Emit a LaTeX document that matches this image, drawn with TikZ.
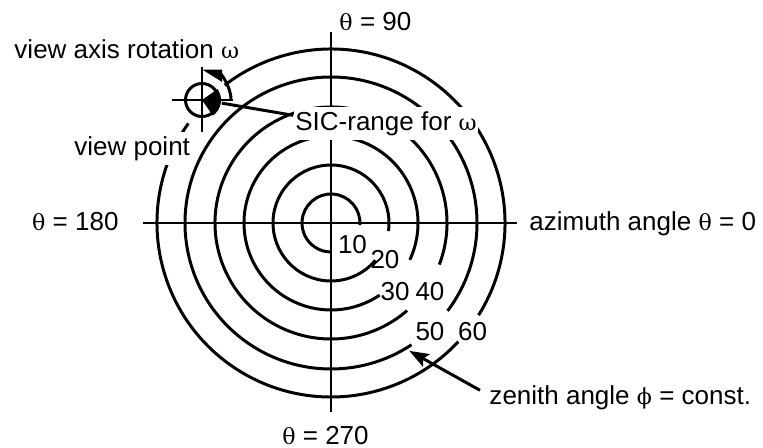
\documentclass[tikz,border=0pt]{standalone}
\usepackage{fontspec}
\setmainfont{Liberation Sans}
\newfontfamily\gkfont{DejaVu Serif}[Scale=0.85]
\usetikzlibrary{calc,arrows.meta}
\newcommand{\lblsize}{\fontsize{14.8pt}{17pt}\selectfont}
\newcommand{\gth}{{\gkfont θ}}
\newcommand{\gom}{{\gkfont ω}}
\newcommand{\gph}{{\gkfont ϕ}}

\begin{document}
\begin{tikzpicture}[x=0.02cm, y=0.02cm, line width=1.7pt,
    lbl/.style={font=\lblsize, inner sep=0pt},
    mask/.style={lbl, fill=white, inner xsep=0.5pt, inner ysep=2.5pt}]
    \useasboundingbox (-331,-224) rectangle (432,223);
    \coordinate (O) at (0,0);
    \coordinate (vp) at (-129,123);
    \coordinate (c5) at (-58.5:150);
    % zenith circles, broken where the numbers sit
    \draw (-4:29) arc[start angle=-4, end angle=270, radius=29];
    \draw (-8:58) arc[start angle=-8, end angle=320, radius=58];
    \draw (-25:87) arc[start angle=-25, end angle=304, radius=87];
    \draw (-21:116) arc[start angle=-21, end angle=311, radius=116];
    \draw (-37:146) arc[start angle=-37, end angle=303.5, radius=146];
    \draw (-32:174) arc[start angle=-32, end angle=317, radius=174];
    % axes
    \draw (-188,0) -- (186,0);
    \draw (0,191) -- (0,-189);
    % view point
    \fill[white] (vp) circle (27);
    \fill (vp) -- ++(-55:19) arc[start angle=-55, end angle=35, radius=19] -- cycle;
    \draw (vp) circle (16.5);
    \draw ($(vp)+(-30,0)$) -- ($(vp)+(31,0)$);
    \draw ($(vp)+(0,33)$) -- ($(vp)+(0,-32)$);
    \draw[-{Triangle[harpoon, length=10pt, width=12pt]}] ($(vp)+(29,0)$) arc[start angle=0, end angle=90, radius=29];
    \coordinate (wedge) at ($(vp)+(-9:20)$);
    % labels
    \node[lbl, anchor=base west] (t90) at (7,193) {\gth{} = 90};
    \node[lbl, anchor=base east] (t180) at (-211,-7) {\gth{} = 180};
    \node[lbl, anchor=base west] (t0) at (197,-7) {azimuth angle \gth{} = 0};
    \node[lbl, anchor=base] (t270) at (-5.5,-221) {\gth{} = 270};
    \node[lbl, anchor=base west] (rot) at (-318,165) {view axis rotation \gom};
    \node[mask, anchor=base west] (vpl) at (-259,68) {view point};
    \node[mask, anchor=base west] (sic) at (-38,93) {SIC-range for \gom};
    \node[lbl, anchor=base west] (zen) at (157,-181) {zenith angle \gph{} = const.};
    \node[lbl, anchor=base] (n10) at (21.5,-30) {10};
    \node[lbl, anchor=base] (n20) at (54,-45) {20};
    \node[lbl, anchor=base] (n30) at (64,-77) {30};
    \node[lbl, anchor=base] (n40) at (99,-77) {40};
    \node[lbl, anchor=base] (n50) at (99,-117) {50};
    \node[lbl, anchor=base] (n60) at (141.5,-117) {60};
    % leaders
    \draw (wedge) -- ($(sic.west)+(0,8)$);
    \draw[-{Stealth[length=11pt, width=8pt, inset=2pt]}] ($(zen.west)+(-8,7)$) -- (c5);
\end{tikzpicture}
\end{document}
